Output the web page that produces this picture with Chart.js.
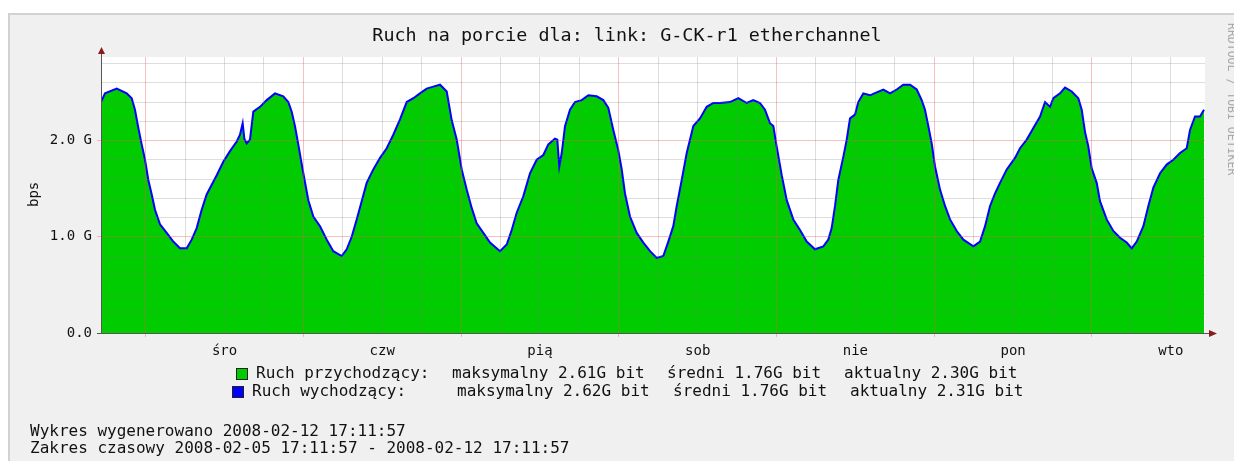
<!DOCTYPE html>
<html><head><meta charset="utf-8">
<script src="https://cdn.jsdelivr.net/npm/chart.js@4.4.0/dist/chart.umd.min.js"></script>
<style>
html,body{margin:0;padding:0;background:#fff;width:1234px;height:461px;overflow:hidden;position:relative;}
#frame{position:absolute;left:8px;top:13px;width:1240px;height:460px;background:#F0F0F0;border-top:2px solid #D2D2D2;border-left:2px solid #D2D2D2;}
#wrap{position:absolute;left:0;top:0;width:1234px;height:461px;}
.t{position:absolute;font-family:"DejaVu Sans Mono",monospace;white-space:pre;color:#111;line-height:16px;font-size:16px;}
.sq{position:absolute;width:10px;height:10px;border:1px solid #222;}
</style></head>
<body>
<div id="frame"></div>
<div id="wrap"><canvas id="c" width="1234" height="461"></canvas></div>
<div class="t" id="title" style="left:0;width:1254px;text-align:center;top:26px;font-size:18.4px;line-height:18px;"></div>
<div class="t" id="ylab" style="left:21px;top:188px;width:24px;text-align:center;font-size:14px;line-height:14px;transform:rotate(-90deg);">bps</div>
<div class="t" id="wm" style="left:1157px;top:92px;width:150px;text-align:center;font-size:11.5px;line-height:12px;color:#A8A8A8;transform:rotate(90deg);">RRDTOOL / TOBI OETIKER</div>
<div class="sq" style="left:236px;top:368px;background:#00CC00;"></div>
<div class="sq" style="left:232px;top:386px;background:#0000FF;"></div>
<div id="legend"></div>
<div id="footer"></div>
<script>
// ---- data (values in Gbit/s, time in hours since 2008-02-05 17:11:57) ----
const tytul = 'Ruch na porcie dla: link: G-CK-r1 etherchannel';
const startGodzina = 17 + 11/60 + 57/3600;
const dni = ['śro','czw','pią','sob','nie','pon','wto'];
const yEtykiety = ['0.0','1.0 G','2.0 G'];
const hours = [
 0,0.61,2.39,3.91,4.67,5.17,5.63,6.19,6.70,7.20,
 7.72,8.22,8.98,10.00,11.00,12.02,13.04,13.80,14.56,15.32,
 16.08,16.85,17.61,18.61,19.63,20.65,21.15,21.56,21.81,22.17,
 22.67,23.18,24.20,25.22,26.48,27.74,28.50,29.02,29.52,30.02,
 30.79,31.55,32.31,33.33,34.35,35.35,36.63,37.39,38.15,38.91,
 39.67,40.43,41.44,42.46,43.48,44.48,45.50,46.52,47.53,48.54,
 49.56,50.57,51.59,52.61,53.37,54.13,54.89,55.65,56.41,57.17,
 58.18,59.20,60.72,61.74,62.50,63.26,64.26,65.28,66.30,67.31,
 68.07,69.09,69.44,69.74,70.11,70.61,71.37,72.13,73.15,74.16,
 75.43,76.44,77.20,77.96,78.72,79.24,79.74,80.50,81.52,82.53,
 83.55,84.57,85.57,86.33,87.09,87.61,88.37,89.13,90.14,91.15,
 92.17,93.18,94.19,95.72,96.98,98.26,99.26,100.28,101.04,101.80,
 102.31,102.82,103.59,104.35,105.35,106.37,107.39,108.65,109.92,110.68,
 111.19,111.70,112.20,112.96,113.48,113.98,114.74,115.24,116.00,117.02,
 118.04,119.05,120.07,121.09,122.09,123.11,124.13,124.89,125.39,125.90,
 126.41,126.92,127.68,128.44,129.20,130.22,131.23,132.75,133.77,134.53,
 135.29,136.05,136.81,137.83,139.09,139.85,140.87,141.88,142.90,143.66,
 144.42,144.92,145.94,146.70,147.72,148.72,149.24,149.74,150.24,150.76,
 151.52,152.02,153.04,154.05,155.07,156.09,156.85,157.61,158.62,159.38,
 160.14,161.16,162.17,163.18,164.20,165.22,165.72,166.48,167.24,167.85
];
const ruchPrzychodzacy = [
 2.40,2.49,2.54,2.49,2.44,2.32,2.15,1.96,1.80,1.59,
 1.44,1.28,1.13,1.04,0.95,0.88,0.88,0.97,1.09,1.28,
 1.44,1.54,1.64,1.78,1.89,1.99,2.06,2.18,2.02,1.97,
 2.01,2.30,2.35,2.42,2.49,2.46,2.40,2.30,2.15,1.96,
 1.66,1.38,1.21,1.11,0.97,0.85,0.80,0.87,1.00,1.18,
 1.37,1.56,1.70,1.82,1.92,2.06,2.22,2.40,2.44,2.49,
 2.54,2.56,2.58,2.51,2.21,2.01,1.70,1.49,1.30,1.14,
 1.04,0.94,0.85,0.92,1.07,1.25,1.42,1.66,1.80,1.85,
 1.96,2.02,2.01,1.73,1.87,2.15,2.32,2.40,2.42,2.47,
 2.46,2.42,2.34,2.11,1.90,1.70,1.45,1.21,1.04,0.94,
 0.85,0.78,0.80,0.95,1.11,1.32,1.59,1.87,2.15,2.23,
 2.35,2.39,2.39,2.40,2.44,2.39,2.42,2.39,2.32,2.18,
 2.15,1.94,1.64,1.38,1.18,1.07,0.95,0.87,0.90,0.97,
 1.09,1.32,1.59,1.83,2.01,2.23,2.27,2.40,2.49,2.47,
 2.50,2.53,2.49,2.53,2.58,2.58,2.53,2.42,2.32,2.15,
 1.97,1.73,1.49,1.32,1.18,1.06,0.97,0.90,0.95,1.11,
 1.32,1.45,1.56,1.70,1.82,1.92,2.01,2.13,2.25,2.40,
 2.35,2.44,2.49,2.55,2.51,2.44,2.32,2.09,1.94,1.71,
 1.56,1.37,1.18,1.06,0.99,0.94,0.88,0.95,1.11,1.32,
 1.51,1.66,1.75,1.80,1.87,1.92,2.11,2.25,2.25,2.32
];
const ruchWychodzacy = [
 2.40,2.49,2.54,2.49,2.44,2.32,2.15,1.96,1.80,1.59,
 1.44,1.28,1.13,1.04,0.95,0.88,0.88,0.97,1.09,1.28,
 1.44,1.54,1.64,1.78,1.89,1.99,2.06,2.18,2.02,1.97,
 2.01,2.30,2.35,2.42,2.49,2.46,2.40,2.30,2.15,1.96,
 1.66,1.38,1.21,1.11,0.97,0.85,0.80,0.87,1.00,1.18,
 1.37,1.56,1.70,1.82,1.92,2.06,2.22,2.40,2.44,2.49,
 2.54,2.56,2.58,2.51,2.21,2.01,1.70,1.49,1.30,1.14,
 1.04,0.94,0.85,0.92,1.07,1.25,1.42,1.66,1.80,1.85,
 1.96,2.02,2.01,1.73,1.87,2.15,2.32,2.40,2.42,2.47,
 2.46,2.42,2.34,2.11,1.90,1.70,1.45,1.21,1.04,0.94,
 0.85,0.78,0.80,0.95,1.11,1.32,1.59,1.87,2.15,2.23,
 2.35,2.39,2.39,2.40,2.44,2.39,2.42,2.39,2.32,2.18,
 2.15,1.94,1.64,1.38,1.18,1.07,0.95,0.87,0.90,0.97,
 1.09,1.32,1.59,1.83,2.01,2.23,2.27,2.40,2.49,2.47,
 2.50,2.53,2.49,2.53,2.58,2.58,2.53,2.42,2.32,2.15,
 1.97,1.73,1.49,1.32,1.18,1.06,0.97,0.90,0.95,1.11,
 1.32,1.45,1.56,1.70,1.82,1.92,2.01,2.13,2.25,2.40,
 2.35,2.44,2.49,2.55,2.51,2.44,2.32,2.09,1.94,1.71,
 1.56,1.37,1.18,1.06,0.99,0.94,0.88,0.95,1.11,1.32,
 1.51,1.66,1.75,1.80,1.87,1.92,2.11,2.25,2.25,2.32
];
const legendaNazwy = ['Ruch przychodzący:','Ruch wychodzący:'];
const legendaMax = ['maksymalny 2.61G bit','maksymalny 2.62G bit'];
const legendaSrednia = ['średni 1.76G bit','średni 1.76G bit'];
const legendaAktualna = ['aktualny 2.30G bit','aktualny 2.31G bit'];
const stopka = ['Wykres wygenerowano 2008-02-12 17:11:57','Zakres czasowy 2008-02-05 17:11:57 - 2008-02-12 17:11:57'];

// ---- texts ----
document.getElementById('title').textContent = tytul;
const lg = document.getElementById('legend');
const legX = [[256,452,667,844],[252,457,673,850]];
const legY = [365,383];
for (let r=0;r<2;r++){
  [legendaNazwy[r],legendaMax[r],legendaSrednia[r],legendaAktualna[r]].forEach((s,i)=>{
    const d=document.createElement('div'); d.className='t'; d.textContent=s;
    d.style.left=legX[r][i]+'px'; d.style.top=legY[r]+'px'; lg.appendChild(d);
  });
}
const ft = document.getElementById('footer');
stopka.forEach((s,i)=>{const d=document.createElement('div');d.className='t';d.textContent=s;d.style.left='30px';d.style.top=(423+i*17)+'px';ft.appendChild(d);});

// ---- chart ----
const polnoc = 24 - startGodzina;          // first midnight (hours from start)
const poludnie = polnoc + 12;               // first noon
const RED = 'rgba(235,90,90,0.38)', GRAY = 'rgba(120,120,120,0.25)';
const isMult = (v,base,step)=>{const d=(v-base)/step;return Math.abs(d-Math.round(d))<1e-6;};
const pts = arr => hours.map((h,i)=>({x:h,y:arr[i]}));
const font = {family:'"DejaVu Sans Mono", monospace', size:14};

const bgPlugin = {id:'bg', beforeDraw(ch){const a=ch.chartArea,c=ch.ctx;c.save();c.fillStyle='#FFFFFF';c.fillRect(a.left,a.top,a.right-a.left,a.bottom-a.top);c.restore();}};
const axesPlugin = {id:'axes', afterDraw(ch){
  const a=ch.chartArea,c=ch.ctx;c.save();
  c.strokeStyle='#555';c.lineWidth=1;
  c.beginPath();c.moveTo(a.left+0.5,a.top-4);c.lineTo(a.left+0.5,a.bottom+1);c.stroke();
  c.beginPath();c.moveTo(a.left,a.bottom+0.5);c.lineTo(a.right+6,a.bottom+0.5);c.stroke();
  c.fillStyle='#8B1A1A';
  c.beginPath();c.moveTo(a.left+0.5,a.top-10);c.lineTo(a.left-3,a.top-3);c.lineTo(a.left+4,a.top-3);c.closePath();c.fill();
  c.beginPath();c.moveTo(a.right+12,a.bottom+0.5);c.lineTo(a.right+4,a.bottom-3);c.lineTo(a.right+4,a.bottom+4);c.closePath();c.fill();
  c.restore();
}};

new Chart(document.getElementById('c'), {
  type:'line',
  data:{datasets:[
    {label:'Ruch wychodzący', data:pts(ruchWychodzacy), borderColor:'#0000FF', borderWidth:2, pointRadius:0, fill:false, tension:0, order:0},
    {label:'Ruch przychodzący', data:pts(ruchPrzychodzacy), borderColor:'rgba(0,0,0,0)', borderWidth:0, backgroundColor:'#00CC00', fill:'origin', pointRadius:0, tension:0, order:1}
  ]},
  options:{
    responsive:false, animation:false, events:[],
    layout:{padding:{left:0,top:57,right:29,bottom:98}},
    plugins:{legend:{display:false},tooltip:{enabled:false},title:{display:false}},
    scales:{
      x:{type:'linear',min:0,max:168,
        afterBuildTicks:s=>{const t=[];for(let v=polnoc;v<168;v+=6)t.push({value:v});s.ticks=t;},
        afterFit:s=>{s.height=30;s.paddingLeft=0;s.paddingRight=0;s.paddingTop=0;s.paddingBottom=0;},
        border:{display:false},
        grid:{z:1,lineWidth:1,tickLength:4,
          color:c=>c.tick&&isMult(c.tick.value,polnoc,24)?RED:GRAY,
          tickColor:c=>c.tick&&isMult(c.tick.value,polnoc,24)?RED:'rgba(0,0,0,0)'},
        ticks:{autoSkip:false,maxRotation:0,minRotation:0,padding:6,font:font,color:'#111',
          callback:v=>{const d=(v-poludnie)/24,i=Math.round(d);return (Math.abs(d-i)<1e-6&&i>=0&&i<dni.length)?dni[i]:'';}}
      },
      y:{type:'linear',min:0,max:2.868,
        afterBuildTicks:s=>{const t=[];for(let k=0;k<=14;k++)t.push({value:k/5});s.ticks=t;},
        afterFit:s=>{s.width=101;s.paddingLeft=0;s.paddingRight=0;s.paddingTop=0;s.paddingBottom=0;},
        border:{display:false},
        grid:{z:1,lineWidth:1,tickLength:4,
          color:c=>c.tick&&isMult(c.tick.value,0,1)?(c.tick.value===0?'#555':RED):GRAY,
          tickColor:c=>c.tick&&isMult(c.tick.value,0,1)?(c.tick.value===0?'#555':RED):'rgba(0,0,0,0)'},
        ticks:{autoSkip:false,padding:5,font:font,color:'#111',
          callback:v=>{return isMult(v,0,1)&&Math.round(v)<yEtykiety.length?yEtykiety[Math.round(v)]:'';}}
      }
    }
  },
  plugins:[bgPlugin,axesPlugin]
});
</script>
</body></html>
